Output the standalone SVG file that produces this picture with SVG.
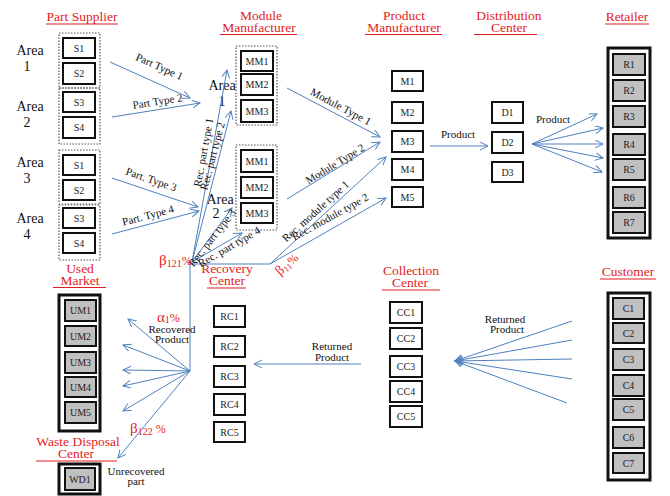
<svg xmlns="http://www.w3.org/2000/svg" width="670" height="496" viewBox="0 0 670 496" font-family="'Liberation Serif','Times New Roman',serif">
<defs>
<style>
text{font-family:"Liberation Serif","Times New Roman",serif;fill:#222}
.t{font-size:13.5px;fill:#e31b23;text-anchor:middle}
.ul{stroke:#e31b23;stroke-width:1}
.b{fill:#fff;stroke:#111;stroke-width:2}
.g{fill:#c0c0c0;stroke:#111;stroke-width:2}
.o{fill:#fff;stroke:#111;stroke-width:3}
.d{fill:none;stroke:#555;stroke-width:1.2;stroke-dasharray:1.5 1.5}
.bl{font-size:10px;text-anchor:middle}
.ar{font-size:14px;text-anchor:middle;fill:#111}
.lb{font-size:11px;text-anchor:middle;fill:#111}
.rd{fill:#e31b23}
.c line{stroke:#4f81bd;stroke-width:1}
.c .a{marker-end:url(#ah)}
</style>
<marker id="ah" markerWidth="10" markerHeight="10" refX="8" refY="4" orient="auto" markerUnits="userSpaceOnUse"><path d="M0,0 L8,4 L0,8" fill="none" stroke="#4f81bd" stroke-width="1"/></marker>
</defs>
<rect width="670" height="496" fill="#fff"/>

<!-- titles -->
<g id="titles">
<text class="t" x="82" y="21">Part Supplier</text><line class="ul" x1="46" y1="24" x2="118" y2="24"/>
<text class="t" x="261" y="20">Module</text><text class="t" x="259" y="32">Manufacturer</text><line class="ul" x1="220" y1="34.5" x2="297" y2="34.5"/>
<text class="t" x="404" y="20">Product</text><text class="t" x="404" y="32">Manufacturer</text><line class="ul" x1="365" y1="34.5" x2="442" y2="34.5"/>
<text class="t" x="509" y="20">Distribution</text><text class="t" x="509" y="32">Center</text><line class="ul" x1="474" y1="34.5" x2="537" y2="34.5"/>
<text class="t" x="627" y="21">Retailer</text><line class="ul" x1="605" y1="24" x2="649" y2="24"/>
<text class="t" x="80" y="273">Used</text><text class="t" x="80" y="285">Market</text><line class="ul" x1="53" y1="287.5" x2="106" y2="287.5"/>
<text class="t" x="227" y="273">Recovery</text><text class="t" x="227" y="285">Center</text><line class="ul" x1="207" y1="288" x2="246" y2="288"/>
<text class="t" x="411" y="275">Collection</text><text class="t" x="410" y="287">Center</text><line class="ul" x1="382" y1="290" x2="440" y2="290"/>
<text class="t" x="628" y="276">Customer</text><line class="ul" x1="600" y1="279" x2="656" y2="279"/>
<text class="t" x="78" y="446">Waste Disposal</text><text class="t" x="76" y="458">Center</text><line class="ul" x1="36" y1="461" x2="117" y2="461"/>
</g>

<!-- area labels -->
<g id="areas">
<text class="ar" x="30" y="55">Area</text><text class="ar" x="27" y="71">1</text>
<text class="ar" x="30" y="111">Area</text><text class="ar" x="27" y="127">2</text>
<text class="ar" x="30" y="167">Area</text><text class="ar" x="27" y="183">3</text>
<text class="ar" x="30" y="223">Area</text><text class="ar" x="27" y="239">4</text>
<text class="ar" x="222" y="90">Area</text><text class="ar" x="222" y="106">1</text>
<text class="ar" x="220" y="204">Area</text><text class="ar" x="216" y="218">2</text>
</g>

<!-- part suppliers -->
<g id="supplier-area1"><rect class="d" x="59" y="33" width="41" height="55"/>
<rect class="b" x="63" y="38" width="32" height="20"/><text class="bl" x="79" y="51.5">S1</text>
<rect class="b" x="63" y="63" width="32" height="21"/><text class="bl" x="79" y="77">S2</text></g>
<g id="supplier-area2"><rect class="d" x="59" y="88" width="41" height="56"/>
<rect class="b" x="63" y="92" width="32" height="20"/><text class="bl" x="79" y="105.5">S3</text>
<rect class="b" x="63" y="117" width="32" height="21"/><text class="bl" x="79" y="131">S4</text></g>
<g id="supplier-area3"><rect class="d" x="59" y="150" width="41" height="54"/>
<rect class="b" x="63" y="155" width="32" height="20"/><text class="bl" x="79" y="168.5">S1</text>
<rect class="b" x="63" y="180" width="32" height="20"/><text class="bl" x="79" y="193.5">S2</text></g>
<g id="supplier-area4"><rect class="d" x="59" y="205" width="41" height="55"/>
<rect class="b" x="63" y="208" width="32" height="20"/><text class="bl" x="79" y="221.5">S3</text>
<rect class="b" x="63" y="233" width="32" height="20"/><text class="bl" x="79" y="246.5">S4</text></g>

<!-- module manufacturers -->
<g id="module-area1"><rect class="d" x="236" y="46" width="41" height="79"/>
<rect class="b" x="241" y="51" width="32" height="20"/><text class="bl" x="257" y="64.5">MM1</text>
<rect class="b" x="241" y="74" width="32" height="21"/><text class="bl" x="257" y="88">MM2</text>
<rect class="b" x="241" y="100" width="32" height="22"/><text class="bl" x="257" y="114.5">MM3</text></g>
<g id="module-area2"><rect class="d" x="236" y="145" width="41" height="85"/>
<rect class="b" x="241" y="150" width="32" height="22"/><text class="bl" x="257" y="164.5">MM1</text>
<rect class="b" x="241" y="177" width="32" height="21"/><text class="bl" x="257" y="191">MM2</text>
<rect class="b" x="241" y="203" width="32" height="20"/><text class="bl" x="257" y="216.5">MM3</text></g>

<!-- product manufacturers -->
<g id="product-manufacturer">
<rect class="b" x="392" y="71" width="31" height="20"/><text class="bl" x="407.5" y="84.5">M1</text>
<rect class="b" x="392" y="102" width="31" height="21"/><text class="bl" x="407.5" y="116">M2</text>
<rect class="b" x="392" y="131" width="31" height="21"/><text class="bl" x="407.5" y="145">M3</text>
<rect class="b" x="392" y="159" width="31" height="21"/><text class="bl" x="407.5" y="173">M4</text>
<rect class="b" x="392" y="187" width="31" height="20"/><text class="bl" x="407.5" y="200.5">M5</text></g>

<!-- distribution -->
<g id="distribution-center">
<rect class="b" x="492" y="102" width="31" height="21"/><text class="bl" x="507.5" y="116">D1</text>
<rect class="b" x="492" y="132" width="31" height="21"/><text class="bl" x="507.5" y="146">D2</text>
<rect class="b" x="492" y="162" width="31" height="20"/><text class="bl" x="507.5" y="175.5">D3</text></g>

<!-- retailer -->
<g id="retailer"><rect class="o" x="608" y="48" width="42" height="190"/>
<rect class="g" x="613" y="54" width="32" height="21"/><text class="bl" x="629" y="68">R1</text>
<rect class="g" x="613" y="80" width="32" height="21"/><text class="bl" x="629" y="94">R2</text>
<rect class="g" x="613" y="106" width="32" height="21"/><text class="bl" x="629" y="120">R3</text>
<rect class="g" x="613" y="134" width="32" height="21"/><text class="bl" x="629" y="148">R4</text>
<rect class="g" x="613" y="159" width="32" height="21"/><text class="bl" x="629" y="173">R5</text>
<rect class="g" x="613" y="187" width="32" height="21"/><text class="bl" x="629" y="201">R6</text>
<rect class="g" x="613" y="212" width="32" height="21"/><text class="bl" x="629" y="226">R7</text></g>

<!-- used market -->
<g id="used-market"><rect class="o" x="59" y="295" width="41" height="136"/>
<rect class="g" x="65" y="300" width="31" height="21"/><text class="bl" x="80.5" y="314">UM1</text>
<rect class="g" x="65" y="326" width="31" height="20"/><text class="bl" x="80.5" y="339.5">UM2</text>
<rect class="g" x="65" y="352" width="31" height="21"/><text class="bl" x="80.5" y="366">UM3</text>
<rect class="g" x="65" y="377" width="31" height="20"/><text class="bl" x="80.5" y="390.5">UM4</text>
<rect class="g" x="65" y="402" width="31" height="21"/><text class="bl" x="80.5" y="416">UM5</text></g>

<!-- waste disposal -->
<g id="waste-disposal"><rect class="o" x="59" y="464" width="41" height="30"/>
<rect class="g" x="65" y="468" width="30" height="22"/><text class="bl" x="80" y="482.5">WD1</text></g>

<!-- recovery center -->
<g id="recovery-center">
<rect class="b" x="214" y="306" width="31" height="21"/><text class="bl" x="229.5" y="320">RC1</text>
<rect class="b" x="214" y="336" width="31" height="21"/><text class="bl" x="229.5" y="350">RC2</text>
<rect class="b" x="214" y="366" width="31" height="21"/><text class="bl" x="229.5" y="380">RC3</text>
<rect class="b" x="214" y="394" width="31" height="21"/><text class="bl" x="229.5" y="408">RC4</text>
<rect class="b" x="214" y="422" width="31" height="20"/><text class="bl" x="229.5" y="435.5">RC5</text></g>

<!-- collection center -->
<g id="collection-center">
<rect class="b" x="390" y="302" width="32" height="21"/><text class="bl" x="406" y="316">CC1</text>
<rect class="b" x="390" y="328" width="32" height="21"/><text class="bl" x="406" y="342">CC2</text>
<rect class="b" x="390" y="356" width="32" height="21"/><text class="bl" x="406" y="370">CC3</text>
<rect class="b" x="390" y="381" width="32" height="21"/><text class="bl" x="406" y="395">CC4</text>
<rect class="b" x="390" y="406" width="32" height="21"/><text class="bl" x="406" y="420">CC5</text></g>

<!-- customer -->
<g id="customer"><rect class="o" x="608" y="293" width="42" height="187"/>
<rect class="g" x="613" y="298" width="31" height="21"/><text class="bl" x="628.5" y="312">C1</text>
<rect class="g" x="613" y="323" width="31" height="20"/><text class="bl" x="628.5" y="336.5">C2</text>
<rect class="g" x="613" y="349" width="31" height="21"/><text class="bl" x="628.5" y="363">C3</text>
<rect class="g" x="613" y="375" width="31" height="21"/><text class="bl" x="628.5" y="389">C4</text>
<rect class="g" x="613" y="399" width="31" height="21"/><text class="bl" x="628.5" y="413">C5</text>
<rect class="g" x="613" y="427" width="31" height="21"/><text class="bl" x="628.5" y="441">C6</text>
<rect class="g" x="613" y="453" width="31" height="20"/><text class="bl" x="628.5" y="466.5">C7</text></g>

<!-- connectors -->
<g id="connectors" class="c">
<line class="a" x1="110" y1="62" x2="190" y2="98"/>
<line class="a" x1="112" y1="117" x2="200" y2="103"/>
<line class="a" x1="112" y1="178" x2="198" y2="207"/>
<line class="a" x1="112" y1="234" x2="199" y2="211"/>
<line class="a" x1="192" y1="262" x2="227" y2="70"/>
<line class="a" x1="192" y1="262" x2="231" y2="111"/>
<line class="a" x1="192" y1="262" x2="232" y2="208"/>
<line class="a" x1="192" y1="262" x2="242" y2="233"/>
<line class="a" x1="287" y1="88" x2="380" y2="137"/>
<line class="a" x1="287" y1="199" x2="380" y2="142"/>
<line class="a" x1="270" y1="264" x2="386" y2="157"/>
<line class="a" x1="270" y1="264" x2="386" y2="198"/>
<line x1="190" y1="264" x2="270" y2="264"/>
<line x1="190" y1="262" x2="190" y2="371"/>
<line class="a" x1="430" y1="146" x2="488" y2="146"/>
<line class="a" x1="532" y1="144" x2="597" y2="114"/>
<line class="a" x1="532" y1="144" x2="603" y2="128"/>
<line class="a" x1="532" y1="144" x2="603" y2="144"/>
<line class="a" x1="532" y1="144" x2="603" y2="158"/>
<line class="a" x1="532" y1="144" x2="602" y2="172"/>
<line class="a" x1="361" y1="364" x2="254" y2="364"/>
<line class="a" x1="572" y1="321" x2="455" y2="361"/>
<line class="a" x1="572" y1="340" x2="455" y2="361"/>
<line class="a" x1="572" y1="359" x2="455" y2="361"/>
<line class="a" x1="572" y1="379" x2="455" y2="361"/>
<line class="a" x1="567" y1="403" x2="455" y2="361"/>
<line class="a" x1="190" y1="371" x2="128" y2="319"/>
<line class="a" x1="190" y1="371" x2="123" y2="345"/>
<line class="a" x1="190" y1="371" x2="123" y2="370"/>
<line class="a" x1="190" y1="371" x2="123" y2="386"/>
<line class="a" x1="190" y1="371" x2="123" y2="411"/>
<line class="a" x1="190" y1="371" x2="118" y2="458"/>
</g>

<!-- connector labels -->
<g id="labels">
<text class="lb" transform="translate(158,70) rotate(24)">Part Type 1</text>
<text class="lb" transform="translate(158,105) rotate(-9)">Part Type 2</text>
<text class="lb" transform="translate(150,183) rotate(19)">Part. Type 3</text>
<text class="lb" transform="translate(149,219) rotate(-15)">Part. Type 4</text>
<text class="lb" transform="translate(207,153) rotate(-79.5)">Rec.  part  type 1</text>
<text class="lb" transform="translate(216,157) rotate(-75)">Rec.  part  type 2</text>
<text class="lb" transform="translate(215,240) rotate(-52)">Rec.  part type 3</text>
<text class="lb" transform="translate(231,250) rotate(-30)">Rec.  part type 4</text>
<text class="lb" transform="translate(339,110) rotate(28)">Module Type 1</text>
<text class="lb" transform="translate(337,167) rotate(-31.5)">Module Type 2</text>
<text class="lb" transform="translate(318,214) rotate(-42)">Rec.  module type 1</text>
<text class="lb" transform="translate(332,220) rotate(-29)">Rec.  module type 2</text>
<text class="lb" x="458" y="138">Product</text>
<text class="lb" x="553" y="123">Product</text>
<text class="lb" x="332" y="350">Returned</text><text class="lb" x="332" y="361">Product</text>
<text class="lb" x="505" y="323">Returned</text><text class="lb" x="507" y="333">Product</text>
<text class="lb" x="172" y="333">Recovered</text><text class="lb" x="172" y="343">Product</text>
<text class="lb" x="136" y="475">Unrecovered</text><text class="lb" x="136" y="485">part</text>
<text class="rd" x="159" y="265" font-size="15">β<tspan font-size="10" dy="2">121</tspan><tspan font-size="12" dy="-2">%</tspan></text>
<text class="rd" x="157" y="322" font-size="15">α<tspan font-size="10" dy="1">1</tspan><tspan font-size="12" dy="-1">%</tspan></text>
<text class="rd" x="130" y="433" font-size="15">β<tspan font-size="10" dy="2">122</tspan><tspan font-size="12" dy="-2"> %</tspan></text>
<text class="rd" transform="translate(280,276) rotate(-42)" font-size="14">β<tspan font-size="9" dy="2">11</tspan><tspan font-size="12" dy="-2">%</tspan></text>
</g>
</svg>
